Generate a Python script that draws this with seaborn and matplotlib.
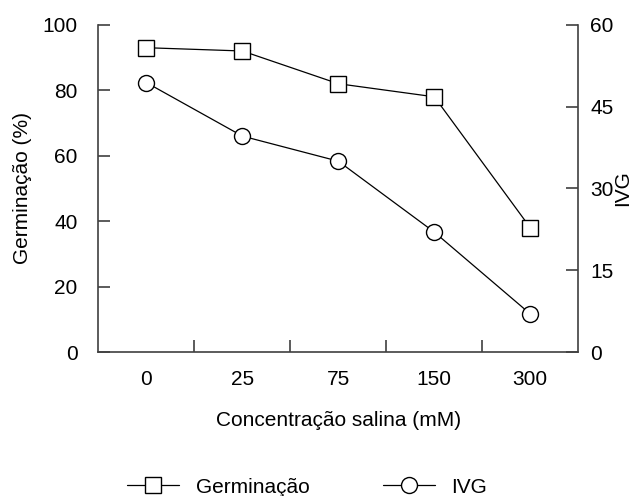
import numpy as np
import pandas as pd
import matplotlib
matplotlib.use("Agg")
import matplotlib.pyplot as plt
import seaborn as sns
from matplotlib.ticker import FixedLocator

concentracao = ["0", "25", "75", "150", "300"]
germinacao = [93, 92, 82, 78, 38]
ivg = [49.4, 39.6, 35.0, 22.0, 7.0]

sns.set_style("white")
plt.rcParams["font.family"] = ["Liberation Sans", "DejaVu Sans"]
plt.rcParams["font.size"] = 15
plt.rcParams["text.color"] = "black"
plt.rcParams["axes.labelcolor"] = "black"
plt.rcParams["xtick.color"] = "black"
plt.rcParams["ytick.color"] = "black"

data = pd.DataFrame({"pos": np.arange(len(concentracao)),
                     "Germinacao": germinacao, "IVG": ivg})

fig = plt.figure(figsize=(6.39, 4.96), dpi=100)
ax = fig.add_axes([0.154, 0.290, 0.751, 0.660])
ax2 = ax.twinx()

sns.lineplot(data=data, x="pos", y="Germinacao", ax=ax, color="black", lw=0.9,
             marker="s", markersize=11.5, markerfacecolor="white",
             markeredgecolor="black", markeredgewidth=1.0, label="Germinação",
             legend=False)
sns.lineplot(data=data, x="pos", y="IVG", ax=ax2, color="black", lw=0.9,
             marker="o", markersize=11.5, markerfacecolor="white",
             markeredgecolor="black", markeredgewidth=1.0, label="IVG",
             legend=False)

ax.set_xlim(-0.5, 4.5)
ax.set_ylim(0, 100)
ax2.set_ylim(0, 60)
ax.set_yticks([0, 20, 40, 60, 80, 100])
ax2.set_yticks([0, 15, 30, 45, 60])
ax.set_xticks(range(len(concentracao)))
ax.set_xticklabels(concentracao)
ax.xaxis.set_minor_locator(FixedLocator([0.5, 1.5, 2.5, 3.5]))

spine_col = "#404040"
for a in (ax, ax2):
    for s in a.spines.values():
        s.set_color(spine_col)
        s.set_linewidth(1.2)
    a.spines["top"].set_visible(False)
ax.spines["right"].set_visible(False)
ax2.spines["left"].set_visible(False)
ax2.spines["bottom"].set_visible(False)

ax.tick_params(axis="x", which="major", length=0, pad=13)
ax.tick_params(axis="x", which="minor", direction="in", length=8.4, width=1.2,
               color=spine_col, bottom=True)
ax.tick_params(axis="y", direction="in", length=8.4, width=1.2, color=spine_col,
               pad=15, left=True)
ax2.tick_params(axis="y", direction="in", length=8.4, width=1.2, color=spine_col,
                pad=8.5, right=True)

ax.set_xlabel("Concentração salina (mM)", va="center")
ax.set_ylabel("Germinação (%)", va="center")
ax2.set_ylabel("IVG", va="center")
ax.xaxis.set_label_coords(0.5, -0.208)
ax.yaxis.set_label_coords(-0.159, 0.5)
ax2.yaxis.set_label_coords(1.092, 0.5)

h1, l1 = ax.get_legend_handles_labels()
h2, l2 = ax2.get_legend_handles_labels()
fig.legend(h1 + h2, l1 + l2, loc="center", bbox_to_anchor=(0.481, 0.018),
           ncol=2, frameon=False, handlelength=2.5, handletextpad=0.8,
           columnspacing=3.5, borderpad=0.2)

fig.savefig("out.png", dpi=100)
